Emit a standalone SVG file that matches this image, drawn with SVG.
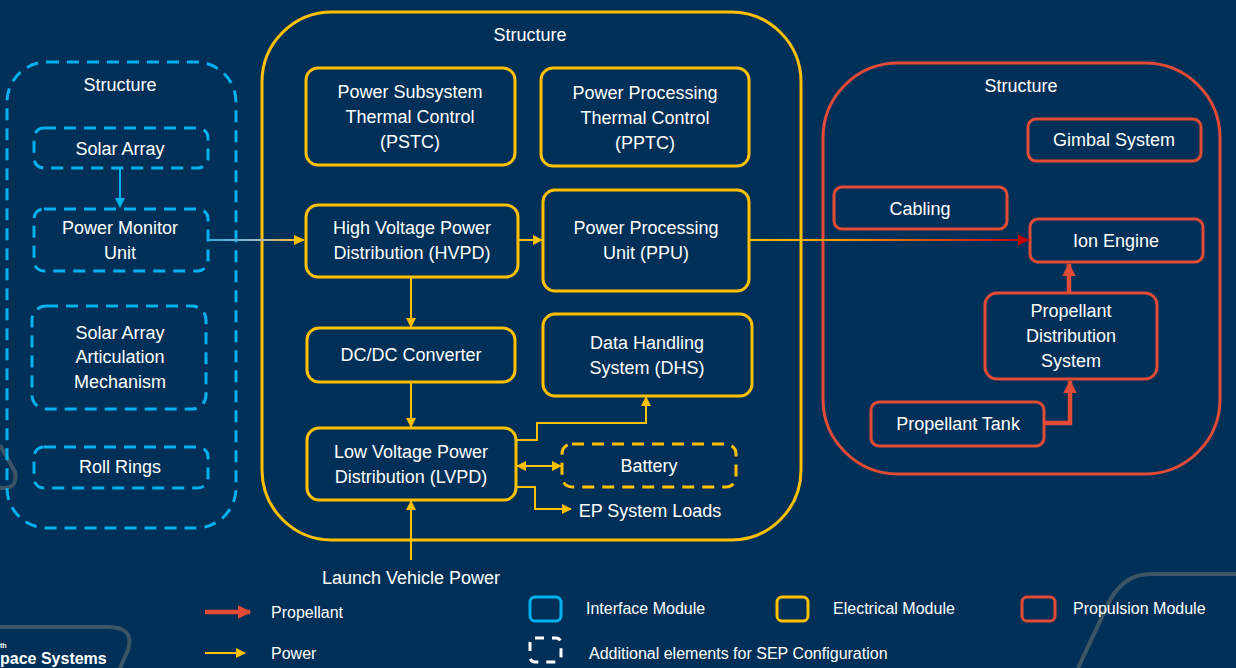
<svg xmlns="http://www.w3.org/2000/svg" width="1236" height="668" viewBox="0 0 1236 668">
<defs>
<style>
text{font-family:"Liberation Sans",Arial,sans-serif;fill:#fff;text-anchor:middle;font-size:18px}
.lg{font-size:16px;text-anchor:start}
.y{fill:none;stroke:#FFC000;stroke-width:3}
.b{fill:none;stroke:#00B0F0;stroke-width:3;stroke-dasharray:12 8}
.r{fill:none;stroke:#E24B35;stroke-width:3}
.yd{fill:none;stroke:#FFC000;stroke-width:3;stroke-dasharray:12 8}
.py{fill:none;stroke:#FFC000;stroke-width:2}
.pr{fill:none;stroke:#E24B35;stroke-width:4.5}
.deco{fill:none;stroke:#3C5565;stroke-width:4}
</style>
<marker id="ay" viewBox="0 0 10 10" refX="9" refY="5" markerWidth="5" markerHeight="5" orient="auto-start-reverse" markerUnits="strokeWidth"><path d="M0,0L10,5L0,10z" fill="#FFC000"/></marker>
<marker id="ab" viewBox="0 0 10 10" refX="9" refY="5" markerWidth="5" markerHeight="5" orient="auto" markerUnits="strokeWidth"><path d="M0,0L10,5L0,10z" fill="#00B0F0"/></marker>
<marker id="ar" viewBox="0 0 10 10" refX="9" refY="5" markerWidth="3" markerHeight="3" orient="auto" markerUnits="strokeWidth"><path d="M0,0L10,5L0,10z" fill="#E24B35"/></marker>
<linearGradient id="gbY" gradientUnits="userSpaceOnUse" x1="208" y1="0" x2="305" y2="0"><stop offset="0" stop-color="#2AA8E0"/><stop offset="0.5" stop-color="#9DB8C8"/><stop offset="1" stop-color="#FFC000"/></linearGradient>
<linearGradient id="gyR" gradientUnits="userSpaceOnUse" x1="750" y1="0" x2="1030" y2="0"><stop offset="0" stop-color="#FFC000"/><stop offset="0.3" stop-color="#F2A000"/><stop offset="1" stop-color="#C00000"/></linearGradient>
</defs>
<rect width="1236" height="668" fill="#003057"/>
<g id="decor">
<path class="deco" d="M0,627 H108 Q135,627 128,650 L120,668"/>
<path class="deco" d="M1236,574 H1150 Q1125,574 1110,600 L1078,668"/>
<path class="deco" d="M0,445 L15,472 Q18,487 5,488 H0"/>
<text x="0" y="664" style="font-weight:bold;font-size:16px;text-anchor:start">pace Systems</text>
<text x="0" y="648" style="font-size:7px;text-anchor:start;font-weight:bold">th</text>
</g>
<g id="interface-structure">
<rect class="b" x="7" y="62" width="229" height="466" rx="40"/>
<text x="120" y="91">Structure</text>
</g>
<g id="solar-array"><rect class="b" x="34" y="128" width="174" height="40" rx="10"/><text x="120" y="155">Solar Array</text></g>
<g id="power-monitor-unit"><rect class="b" x="34" y="209" width="174" height="62" rx="10"/><text x="120" y="234">Power Monitor</text><text x="120" y="259">Unit</text></g>
<g id="saam"><rect class="b" x="32" y="306" width="174" height="103" rx="14"/><text x="120" y="339">Solar Array</text><text x="120" y="363">Articulation</text><text x="120" y="388">Mechanism</text></g>
<g id="roll-rings"><rect class="b" x="34" y="447" width="174" height="41" rx="10"/><text x="120" y="473">Roll Rings</text></g>

<g id="electrical-structure">
<rect class="y" x="262" y="12" width="539" height="528" rx="70"/>
<text x="530" y="41">Structure</text>
</g>
<g id="pstc"><rect class="y" x="306" y="68" width="209" height="97" rx="12"/><text x="410" y="98">Power Subsystem</text><text x="410" y="123">Thermal Control</text><text x="410" y="148">(PSTC)</text></g>
<g id="pptc"><rect class="y" x="541" y="68" width="208" height="98" rx="12"/><text x="645" y="99">Power Processing</text><text x="645" y="124">Thermal Control</text><text x="645" y="149">(PPTC)</text></g>
<g id="hvpd"><rect class="y" x="306" y="205" width="212" height="72" rx="12"/><text x="412" y="234">High Voltage Power</text><text x="412" y="259">Distribution (HVPD)</text></g>
<g id="ppu"><rect class="y" x="543" y="190" width="206" height="101" rx="12"/><text x="646" y="234">Power Processing</text><text x="646" y="259">Unit (PPU)</text></g>
<g id="dcdc"><rect class="y" x="307" y="328" width="208" height="54" rx="12"/><text x="411" y="361">DC/DC Converter</text></g>
<g id="dhs"><rect class="y" x="543" y="314" width="209" height="82" rx="12"/><text x="647" y="349">Data Handling</text><text x="647" y="374">System (DHS)</text></g>
<g id="lvpd"><rect class="y" x="307" y="428" width="209" height="72" rx="12"/><text x="411" y="458">Low Voltage Power</text><text x="411" y="483">Distribution (LVPD)</text></g>
<g id="battery"><rect class="yd" x="562" y="444" width="174" height="43" rx="10"/><text x="649" y="472">Battery</text></g>
<g id="ep-loads"><text x="650" y="517">EP System Loads</text></g>
<g id="lv-power"><text x="411" y="584">Launch Vehicle Power</text></g>

<g id="propulsion-structure">
<rect class="r" x="823" y="63" width="397" height="411" rx="75"/>
<text x="1021" y="92">Structure</text>
</g>
<g id="gimbal"><rect class="r" x="1028" y="119" width="173" height="42" rx="8"/><text x="1114" y="146">Gimbal System</text></g>
<g id="cabling"><rect class="r" x="834" y="187" width="173" height="42" rx="8"/><text x="920" y="215">Cabling</text></g>
<g id="ion-engine"><rect class="r" x="1030" y="219" width="173" height="43" rx="8"/><text x="1116" y="247">Ion Engine</text></g>
<g id="pds"><rect class="r" x="985" y="293" width="172" height="86" rx="12"/><text x="1071" y="317">Propellant</text><text x="1071" y="342">Distribution</text><text x="1071" y="367">System</text></g>
<g id="tank"><rect class="r" x="871" y="402" width="173" height="44" rx="8"/><text x="958" y="430">Propellant Tank</text></g>

<g id="connectors">
<path d="M120,168 V207" fill="none" stroke="#00B0F0" stroke-width="2" marker-end="url(#ab)"/>
<path d="M208,240 H304" fill="none" stroke="url(#gbY)" stroke-width="2"/>
<path d="M294,235 L305,240 L294,245 z" fill="#FFC000"/>
<path class="py" d="M518,240 H542" marker-end="url(#ay)"/>
<path class="py" d="M411,277 V327" marker-end="url(#ay)"/>
<path class="py" d="M411,382 V427" marker-end="url(#ay)"/>
<path class="py" d="M516,440 H537 V423 H646 V397" marker-end="url(#ay)"/>
<path class="py" d="M517,466 H561" marker-start="url(#ay)" marker-end="url(#ay)"/>
<path class="py" d="M516,487 H535 V509 H571" marker-end="url(#ay)"/>
<path class="py" d="M411,560 V501" marker-end="url(#ay)"/>
<path d="M749,240 H1020" fill="none" stroke="url(#gyR)" stroke-width="2"/>
<path d="M1018,234.5 L1030,240 L1018,245.5 z" fill="#C00000"/>
<path class="pr" d="M1069,293 V264" marker-end="url(#ar)"/>
<path class="pr" d="M1044,423 H1070 V381" marker-end="url(#ar)"/>
</g>

<g id="legend">
<path class="pr" d="M205,612 H250" marker-end="url(#ar)"/>
<text class="lg" x="271" y="618">Propellant</text>
<path class="py" d="M205,653 H245" marker-end="url(#ay)"/>
<text class="lg" x="271" y="659">Power</text>
<rect x="530" y="597" width="31" height="24" rx="5" fill="none" stroke="#00B0F0" stroke-width="3"/>
<text class="lg" x="586" y="614">Interface Module</text>
<rect x="777" y="597" width="31" height="24" rx="5" fill="none" stroke="#FFC000" stroke-width="3"/>
<text class="lg" x="833" y="614">Electrical Module</text>
<rect x="1022" y="597" width="33" height="24" rx="5" fill="none" stroke="#E24B35" stroke-width="3"/>
<text class="lg" x="1073" y="614">Propulsion Module</text>
<rect x="530" y="638" width="31" height="24" rx="5" fill="none" stroke="#fff" stroke-width="3" stroke-dasharray="9 8"/>
<text class="lg" x="589" y="659">Additional elements for SEP Configuration</text>
</g>
</svg>
